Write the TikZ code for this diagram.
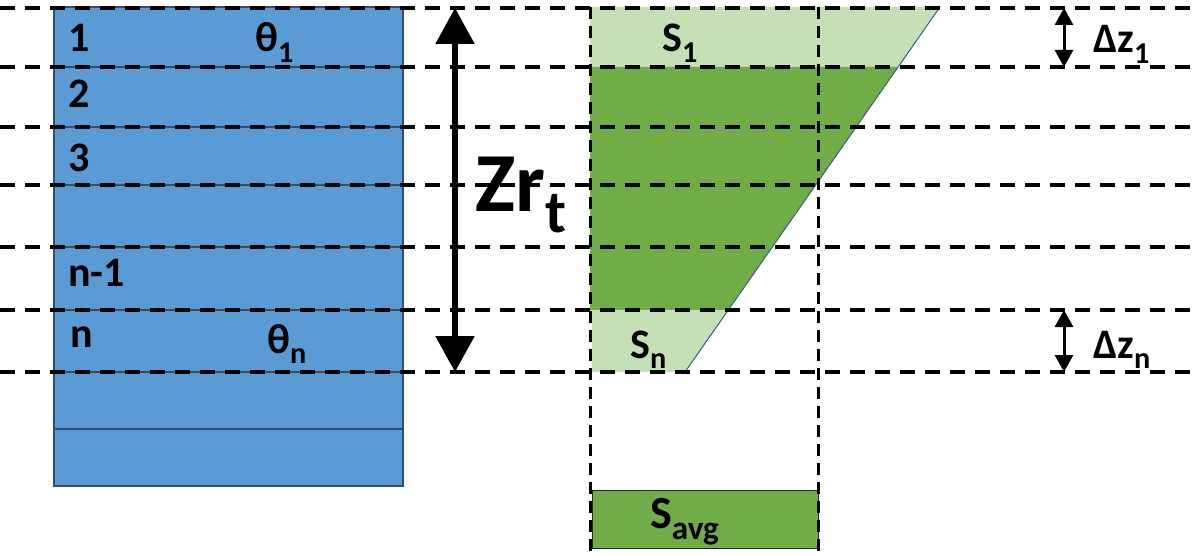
\documentclass[tikz,border=0pt]{standalone}
\usepackage{fontspec}
\setmainfont{Carlito}
\usetikzlibrary{arrows.meta}
\definecolor{soil}{HTML}{5B9BD5}
\definecolor{soilline}{HTML}{2F4F6F}
\definecolor{wet}{HTML}{70AD47}
\definecolor{wetlight}{HTML}{C5E0B4}
\newcommand{\sbs}[1]{\raisebox{-0.25em}{\scalebox{0.72}{#1}}}

\begin{document}
\begin{tikzpicture}[
  x=1pt, y=-1pt,
  >=Triangle,
  gridline/.style={line width=3.2pt, dash pattern=on 15pt off 10pt},
  colline/.style={line width=3pt, dash pattern=on 12pt off 7pt},
  lbl/.style={font=\fontsize{42}{44}\selectfont\bfseries, anchor=base west, inner sep=0pt},
]
\useasboundingbox (0,0) rectangle (1200,556);

% soil column
\fill[soil] (54,7) rectangle (403,486);
\foreach \y in {67,127,185,247,310,372,429}
  \draw[soilline, line width=1.2pt] (54,\y) -- (403,\y);
\draw[soilline, line width=1.2pt] (54,7) rectangle (403,486);

% saturation profile
\fill[wetlight] (590,7) -- (940,7) -- (898,67) -- (590,67) -- cycle;
\fill[wet] (590,67) -- (898,67) -- (728,310) -- (590,310) -- cycle;
\fill[wetlight] (592,310) -- (728,310) -- (685,372) -- (592,372) -- cycle;
\draw[soil!60!black, line width=1pt] (940,7) -- (685,372);
\node[draw=black!85, fill=wet, line width=1.2pt, minimum width=226pt, minimum height=58pt,
  anchor=north west, inner sep=0pt] (savgbox) at (592,490) {};

% depth guides
\foreach \y in {8,67,127,185,247,310,372}
  \draw[gridline] (0,\y) -- (1200,\y);
\foreach \x in {590,818}
  \draw[colline] (\x,7) -- (\x,556);

% layer labels
\node[lbl] (l1) at (68,52) {1};
\node[lbl] (l2) at (68,108) {2};
\node[lbl] (l3) at (68,172) {3};
\node[lbl] (ln1) at (68,287) {n-1};
\node[lbl] (ln) at (70,347) {n};
\node[lbl] (th1) at (255,52) {θ\sbs{1}};
\node[lbl] (thn) at (267,353) {θ\sbs{n}};

% saturation labels
\node[lbl] (s1) at (662,52) {S\sbs{1}};
\node[lbl] (sn) at (630,358) {S\sbs{n}};
\node[lbl, font=\fontsize{46}{48}\selectfont\bfseries] (savg) at (650,528) {S\sbs{avg}};

% root zone depth
\coordinate (zrtop) at (455,8);
\coordinate (zrbot) at (455,372);
\draw[<->, line width=5.5pt, >={Triangle[width=38pt,length=36pt]}] (zrtop) -- (zrbot);
\node[font=\fontsize{84}{84}\selectfont\bfseries, anchor=base west, inner sep=0pt] (zr) at (475,212) {Zr\sbs{t}};

% layer thickness
\coordinate (dz1top) at (1064,8);
\coordinate (dz1bot) at (1064,67);
\coordinate (dzntop) at (1064,310);
\coordinate (dznbot) at (1064,372);
\draw[<->, line width=3pt, >={Triangle[width=18pt,length=17pt]}] (dz1top) -- (dz1bot);
\draw[<->, line width=3pt, >={Triangle[width=18pt,length=17pt]}] (dzntop) -- (dznbot);
\node[lbl] (dz1) at (1093,53) {Δz\sbs{1}};
\node[lbl] (dzn) at (1093,358) {Δz\sbs{n}};

\end{tikzpicture}
\end{document}
